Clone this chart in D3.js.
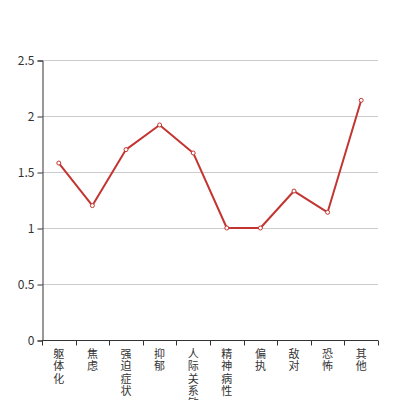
<!DOCTYPE html>
<html>
<head>
<meta charset="utf-8">
<script src="https://cdn.jsdelivr.net/npm/d3@7"></script>
<style>
  body { margin: 0; background: #fff; }
  text { font-family: "Noto Sans CJK SC", "DejaVu Sans", sans-serif; }
</style>
</head>
<body>
<div id="chart"></div>
<script>
// data
const categories = ["躯体化", "焦虑", "强迫症状", "抑郁", "人际关系敏感", "精神病性", "偏执", "敌对", "恐怖", "其他"];
const values = [1.58, 1.20, 1.70, 1.92, 1.67, 1.00, 1.00, 1.33, 1.14, 2.14];
const yTicks = [0, 0.5, 1, 1.5, 2, 2.5];

const width = 420, height = 400;
const margin = { top: 60, right: 42, bottom: 60, left: 42 };

let svg = d3.select("#chart").append("svg")
    .attr("width", width)
    .attr("height", height);

let x = d3.scaleBand()
    .domain(categories)
    .range([margin.left, width - margin.right]);
let y = d3.scaleLinear()
    .domain([0, 2.5])
    .range([height - margin.bottom, margin.top]);

//grid
svg.append("g")
    .selectAll("line")
    .data(yTicks.filter(d => d > 0))
    .join("line")
    .attr("x1", margin.left)
    .attr("x2", width - margin.right)
    .attr("y1", d => y(d) + 0.5)
    .attr("y2", d => y(d) + 0.5)
    .attr("stroke", "#ccc");

// y axis
let axisY = svg.append("g")
    .attr("transform", "translate(" + (margin.left + 0.5) + ",0.5)")
    .call(d3.axisLeft(y).tickValues(yTicks).tickSize(5).tickPadding(3).tickFormat(d3.format("")));
axisY.select(".domain").attr("stroke", "#333");
axisY.selectAll(".tick line").attr("stroke", "#333");
axisY.selectAll(".tick text").attr("fill", "#333").attr("font-size", 12)
    .attr("font-family", "Noto Sans, DejaVu Sans, sans-serif");

// x axis
let axisX = svg.append("g")
    .attr("transform", "translate(0," + (height - margin.bottom + 0.5) + ")");
axisX.append("line")
    .attr("x1", margin.left).attr("x2", width - margin.right)
    .attr("stroke", "#333");
axisX.selectAll(".tk")
    .data(d3.range(categories.length + 1))
    .join("line")
    .attr("class", "tk")
    .attr("x1", i => Math.round(margin.left + i * x.step()) + 0.5)
    .attr("x2", i => Math.round(margin.left + i * x.step()) + 0.5)
    .attr("y2", 5)
    .attr("stroke", "#333");

// vertical labels, one character per line
axisX.selectAll(".lbl")
    .data(categories.flatMap(c => c.split("").map((ch, i) => ({ c, ch, i }))))
    .join("text")
    .attr("class", "lbl")
    .attr("fill", "#333")
    .attr("font-size", 11)
    .attr("text-anchor", "middle")
    .attr("x", d => x(d.c) + x.bandwidth() / 2)
    .attr("y", d => 17.5 + d.i * 12.3)
    .text(d => d.ch);

// line
let line = d3.line()
    .x((d, i) => x(categories[i]) + x.bandwidth() / 2)
    .y(d => y(d));

svg.append("path")
    .datum(values)
    .attr("fill", "none")
    .attr("stroke", "#c23531")
    .attr("stroke-width", 2)
    .attr("stroke-linejoin", "round")
    .attr("d", line);

svg.append("g")
    .selectAll("circle")
    .data(values)
    .join("circle")
    .attr("cx", (d, i) => x(categories[i]) + x.bandwidth() / 2)
    .attr("cy", d => y(d))
    .attr("r", 2)
    .attr("fill", "#fff")
    .attr("stroke", "#c23531")
    .attr("stroke-width", 1);
</script>
</body>
</html>
